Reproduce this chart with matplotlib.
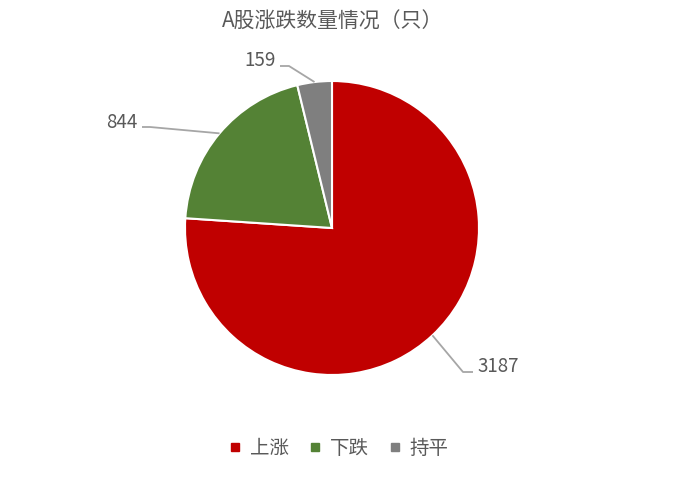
import numpy as np
import matplotlib.pyplot as plt
from matplotlib.lines import Line2D

plt.rcParams['font.family'] = ['Noto Sans CJK SC', 'DejaVu Sans']

labels = ['上涨', '下跌', '持平']
values = [3187, 844, 159]
colors = ['#C00000', '#548235', '#7F7F7F']
title = 'A股涨跌数量情况（只）'

W, H = 693, 482
cx, cy, R = 332, 228, 147  # pie centre / radius in pixels (top-origin)

fig = plt.figure(figsize=(W / 100, H / 100), dpi=100)
ax = fig.add_axes([0, 0, 1, 1])

wedges, _ = ax.pie(values, colors=colors, startangle=90, counterclock=False,
                   radius=1.0, wedgeprops=dict(edgecolor='white', linewidth=1.5))

# map whole figure to data units so radius 1 = R pixels
ax.set_xlim(-cx / R, (W - cx) / R)
ax.set_ylim(-(H - cy) / R, cy / R)
ax.set_aspect('auto')
ax.axis('off')

def px(x, y):
    return (x - cx) / R, (cy - y) / R

# label positions (pixel coords): elbow, end, text anchor, ha
label_layout = [
    ((463, 372), (473, 372), (477, 366), 'left'),
    ((150, 127), (142, 127), (138, 122), 'right'),
    ((289, 66), (280, 66), (276, 60), 'right'),
]

for w, v, (elb, end, txt, ha) in zip(wedges, values, label_layout):
    ang = np.deg2rad((w.theta1 + w.theta2) / 2)
    x0, y0 = np.cos(ang), np.sin(ang)
    ex, ey = px(*elb)
    fx, fy = px(*end)
    ax.plot([x0, ex, fx], [y0, ey, fy], color='#A6A6A6', lw=1.3,
            solid_capstyle='butt', zorder=1)
    tx, ty = px(*txt)
    ax.text(tx, ty, str(v), ha=ha, va='center', fontsize=13.5, color='#595959')

fig.text(333 / W, 1 - 22 / H, title, ha='center', va='center',
         fontsize=15, color='#595959')

handles = [Line2D([], [], marker='s', linestyle='none', markersize=6,
                  markerfacecolor=c, markeredgecolor=c) for c in colors]
fig.legend(handles, labels, loc='center', bbox_to_anchor=(337 / W, 1 - 448 / H),
           ncol=3, frameon=False, fontsize=14, handletextpad=0.25,
           columnspacing=0.85, handlelength=1.0, labelcolor='#595959')

fig.savefig('out.png', dpi=100, facecolor='white')
